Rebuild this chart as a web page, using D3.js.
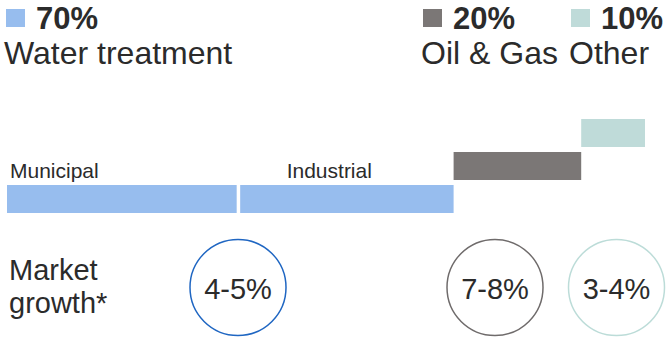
<!DOCTYPE html>
<html>
<head>
<meta charset="utf-8">
<script src="https://cdn.jsdelivr.net/npm/d3@7"></script>
<style>
  html, body { margin: 0; padding: 0; background: #fff; }
  svg { display: block; font-family: "Liberation Sans", Arial, Helvetica, sans-serif; }
</style>
</head>
<body>
<svg id="chart" width="666" height="337"></svg>
<script>
// Market split by sector (share of total, %)
const sectors = ["Water treatment", "Oil & Gas", "Other"];
const sectorShares = [70, 20, 10];
const shareLabels = ["70%", "20%", "10%"];

// Water treatment broken down into its two sub-segments (%)
const waterSegments = ["Municipal", "Industrial"];
const waterShares = [36, 34];

// Expected market growth per sector
const growthLabels = ["4-5%", "7-8%", "3-4%"];
const growthTitle = ["Market", "growth*"];

const svg = d3.select("#chart");
const textColor = "#2b2b2b";

const color = d3.scaleOrdinal()
  .domain(sectors)
  .range(["#97bdee", "#7b7776", "#bfdbd9"]);
const ringColor = d3.scaleOrdinal()
  .domain(sectors)
  .range(["#1f66c2", "#6f6b6b", "#bcdcd8"]);

// Horizontal share scale and stepped row scale
const x = d3.scaleLinear().domain([0, 100]).range([7, 645]);
const y = d3.scaleLinear().domain([0, 2]).range([185, 119]);
const barH = 28;

// Cumulative starts for each sector
const sectorStart = d3.cumsum([0, ...sectorShares]).slice(0, sectors.length);
const waterStart = d3.cumsum([0, ...waterShares]).slice(0, waterShares.length);

// Header: coloured key square, bold share, sector name
const headerX = d3.scaleOrdinal().domain(sectors).range([6, 423, 571]);
const header = svg.append("g").selectAll("g")
  .data(sectors)
  .join("g")
  .attr("transform", d => `translate(${headerX(d)},0)`);
header.append("rect")
  .attr("x", 0).attr("y", 9)
  .attr("width", 19).attr("height", 18)
  .attr("fill", d => color(d));
header.append("text")
  .attr("x", 30).attr("y", 29)
  .attr("font-size", 31).attr("font-weight", "bold")
  .attr("fill", textColor)
  .text((d, i) => shareLabels[i]);
header.append("text")
  .attr("x", -2)
  .attr("y", 64)
  .attr("font-size", 32)
  .attr("fill", textColor)
  .text(d => d);

// Water treatment sub-segment bars on the bottom row
const gap = 3.5;
svg.append("g").selectAll("rect")
  .data(waterSegments)
  .join("rect")
  .attr("x", (d, i) => x(waterStart[i]) + (i > 0 ? gap : 0))
  .attr("y", y(0))
  .attr("width", (d, i) => x(waterStart[i] + waterShares[i]) - x(waterStart[i]) - (i > 0 ? gap : 0))
  .attr("height", barH)
  .attr("fill", color("Water treatment"));

// Sub-segment labels above the water bars
const subLabelOffset = [3, 50];
svg.append("g").selectAll("text")
  .data(waterSegments)
  .join("text")
  .attr("x", (d, i) => x(waterStart[i]) + subLabelOffset[i])
  .attr("y", y(0) - 7)
  .attr("font-size", 21)
  .attr("fill", textColor)
  .text(d => d);

// Remaining sectors step up one row each
svg.append("g").selectAll("rect")
  .data(sectors.slice(1))
  .join("rect")
  .attr("x", (d, i) => x(sectorStart[i + 1]))
  .attr("y", (d, i) => y(i + 1))
  .attr("width", (d, i) => x(sectorStart[i + 1] + sectorShares[i + 1]) - x(sectorStart[i + 1]))
  .attr("height", barH)
  .attr("fill", d => color(d));

// Market growth row
svg.append("text")
  .attr("font-size", 29)
  .attr("fill", textColor)
  .selectAll("tspan")
  .data(growthTitle)
  .join("tspan")
  .attr("x", 9)
  .attr("y", (d, i) => 280 + i * 33)
  .text(d => d);

const ringX = d3.scaleOrdinal().domain(sectors).range([238, 495, 616.5]);
const ringY = 287.5, ringR = 48;
const rings = svg.append("g").selectAll("g")
  .data(sectors)
  .join("g")
  .attr("transform", d => `translate(${ringX(d)},${ringY})`);
rings.append("circle")
  .attr("r", ringR)
  .attr("fill", "none")
  .attr("stroke", d => ringColor(d))
  .attr("stroke-width", 1.5);
rings.append("text")
  .attr("text-anchor", "middle")
  .attr("y", 11)
  .attr("font-size", 29)
  .attr("fill", textColor)
  .text((d, i) => growthLabels[i]);
</script>
</body>
</html>
